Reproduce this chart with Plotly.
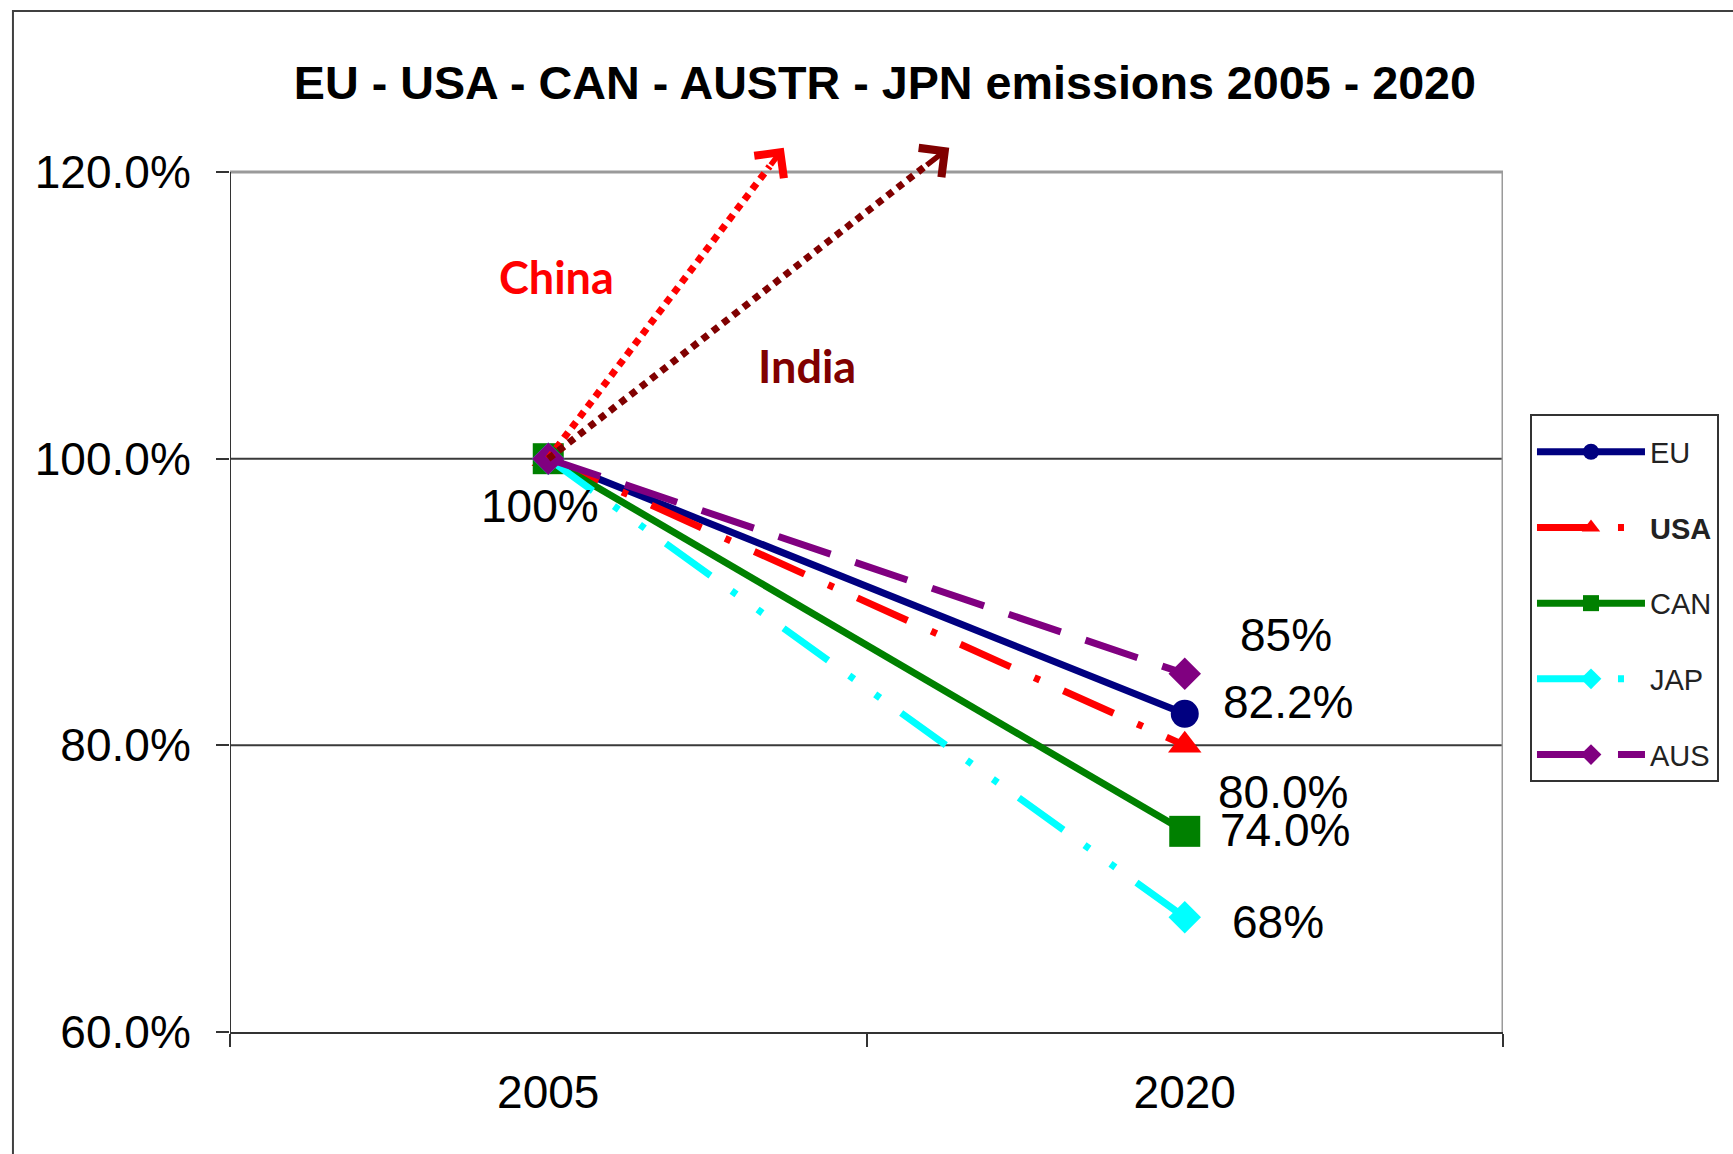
import plotly.graph_objects as go

# ---- data -------------------------------------------------------------
years = ["2005", "2020"]
series_names = ["EU", "USA", "CAN", "JAP", "AUS"]
eu = [100.0, 82.2]
usa = [100.0, 80.0]
can = [100.0, 74.0]
jap = [100.0, 68.0]
aus = [100.0, 85.0]

y_ticks = [60, 80, 100, 120]
y_tick_labels = ["60.0%", "80.0%", "100.0%", "120.0%"]

# growth arrows for China and India (start at the 2005 level, head above the frame)
china_arrow_x = [0.0, 0.37]
china_arrow_y = [100.0, 121.7]
india_arrow_x = [0.0, 0.63]
india_arrow_y = [100.0, 121.7]

# ---- styling ----------------------------------------------------------
x_pos = list(range(len(years)))
FONT = "Liberation Sans, Arial, sans-serif"
Y_MIN, Y_MAX = y_ticks[0], y_ticks[-1]
Y_HEADROOM = 124.05          # axis runs a little past the framed area so the arrow heads show

styles = {
    "EU":  dict(values=eu,  color="#000080", dash="solid", symbol="circle", size=28, fmt="{:.1f}%"),
    "USA": dict(values=usa, color="#FF0000", dash="55px,26px,6px,26px", symbol="triangle-up", size=29, fmt="{:.1f}%"),
    "CAN": dict(values=can, color="#008000", dash="solid", symbol="square", size=31, fmt="{:.1f}%"),
    "JAP": dict(values=jap, color="#00FFFF", dash="55px,26px,6px,26px,6px,26px", symbol="diamond", size=25, fmt="{:.0f}%"),
    "AUS": dict(values=aus, color="#800080", dash="55px,26px", symbol="diamond", size=25, fmt="{:.0f}%"),
}
# where each end-of-line label sits relative to its 2020 marker (px)
label_shift = {"EU": (36, 12), "USA": (31, -47), "CAN": (33, 1), "JAP": (45, -5), "AUS": (53, 39)}

fig = go.Figure()

for name in series_names:
    s = styles[name]
    fig.add_trace(go.Scatter(
        x=x_pos, y=s["values"], mode="lines+markers",
        name="<b>USA</b>" if name == "USA" else name,
        legendgroup=name,
        line=dict(color=s["color"], width=7, dash=s["dash"]),
        marker=dict(symbol=s["symbol"], size=s["size"], color=s["color"], line=dict(width=0)),
        cliponaxis=False,
    ))

annotations = []
for name in series_names:
    s = styles[name]
    dx, dy = label_shift[name]
    annotations.append(dict(
        x=x_pos[-1], y=s["values"][-1], xref="x", yref="y",
        text=s["fmt"].format(s["values"][-1]), showarrow=False,
        xanchor="left", yanchor="middle", xshift=dx, yshift=dy,
        font=dict(family=FONT, size=46, color="#000000"),
    ))
# label for the common 2005 starting level
annotations.append(dict(
    x=x_pos[0], y=eu[0], xref="x", yref="y", text="{:.0f}%".format(eu[0]),
    showarrow=False, xanchor="center", yanchor="middle", xshift=-8, yshift=-47,
    font=dict(family=FONT, size=46, color="#000000"),
))

# dotted growth arrows
for ax_, ay_, col, label, lab_pos in [
    (china_arrow_x, china_arrow_y, "#FF0000", "China", (0.013, 112.7)),
    (india_arrow_x, india_arrow_y, "#800000", "India", (0.407, 106.5)),
]:
    tail_x = ax_[1] - 0.06 * (ax_[1] - ax_[0])
    tail_y = ay_[1] - 0.06 * (ay_[1] - ay_[0])
    fig.add_trace(go.Scatter(
        x=[ax_[0], tail_x], y=[ay_[0], tail_y], mode="lines",
        line=dict(color=col, width=7, dash="7px,6px"),
        showlegend=False, hoverinfo="skip",
    ))
    annotations.append(dict(
        x=ax_[1], y=ay_[1], ax=tail_x, ay=tail_y, xref="x", yref="y",
        axref="x", ayref="y", text="", showarrow=True,
        arrowhead=4, arrowsize=1.3, arrowwidth=5.5, arrowcolor=col,
        standoff=0, startstandoff=0,
    ))
    annotations.append(dict(
        x=lab_pos[0], y=lab_pos[1], xref="x", yref="y", text="<b>%s</b>" % label,
        showarrow=False, xanchor="center", yanchor="middle",
        font=dict(family="Lato, Carlito, sans-serif", size=45, color=col),
    ))

shapes = []
# interior gridlines
for v in y_ticks[1:-1]:
    shapes.append(dict(type="line", xref="x", yref="y", x0=-0.5, x1=1.5, y0=v, y1=v,
                       line=dict(color="#3a3a3a", width=2), layer="below"))
# frame of the plotting area: grey top and right, dark left
shapes += [
    dict(type="line", xref="x", yref="y", x0=-0.5, x1=1.5, y0=Y_MAX, y1=Y_MAX,
         line=dict(color="#9a9a9a", width=3), layer="below"),
    dict(type="line", xref="x", yref="y", x0=1.5, x1=1.5, y0=Y_MIN, y1=Y_MAX,
         line=dict(color="#9a9a9a", width=3), layer="below"),
    dict(type="line", xref="x", yref="y", x0=-0.5, x1=-0.5, y0=Y_MIN, y1=Y_MAX,
         line=dict(color="#333333", width=2), layer="below"),
    # outer chart frame
    dict(type="rect", xref="paper", yref="paper", x0=-0.1705, x1=1.3, y0=-0.3, y1=1.1122,
         line=dict(color="#404040", width=2), layer="below"),
]

fig.update_layout(
    width=1733, height=1154,
    margin=dict(l=230, r=230, t=114, b=122),
    paper_bgcolor="white", plot_bgcolor="white",
    title=dict(
        text="<b>EU - USA - CAN - AUSTR - JPN emissions 2005 - 2020</b>",
        x=0.5145, xref="paper", xanchor="center", y=0.928, yanchor="middle",
        font=dict(family=FONT, size=46.7, color="#000000"),
    ),
    xaxis=dict(
        range=[-0.5, 1.5], tickvals=x_pos, ticktext=years, ticks="",
        showgrid=False, zeroline=False, showline=True, linecolor="#333333", linewidth=2,
        tickfont=dict(family=FONT, size=46, color="#000000"),
        ticklabelstandoff=19,
        minor=dict(tick0=-0.5, dtick=1, ticks="outside", ticklen=13, tickwidth=2,
                   tickcolor="#333333", showgrid=False),
        fixedrange=True,
    ),
    yaxis=dict(
        range=[Y_MIN, Y_HEADROOM], tickvals=y_ticks, ticktext=y_tick_labels,
        ticks="outside", ticklen=13, tickwidth=2, tickcolor="#333333",
        showgrid=False, zeroline=False, showline=False,
        tickfont=dict(family=FONT, size=46, color="#000000"),
        ticklabelstandoff=16,
        fixedrange=True,
    ),
    legend=dict(
        x=1.0212, y=0.6732, xanchor="left", yanchor="top",
        bgcolor="white", bordercolor="#333333", borderwidth=2,
        font=dict(family=FONT, size=29, color="#222222"),
        itemwidth=108, tracegroupgap=35,
        title=dict(text="&nbsp;", font=dict(size=8)),
    ),
    annotations=annotations,
    shapes=shapes,
    showlegend=True,
)

fig.write_html("out.html")
